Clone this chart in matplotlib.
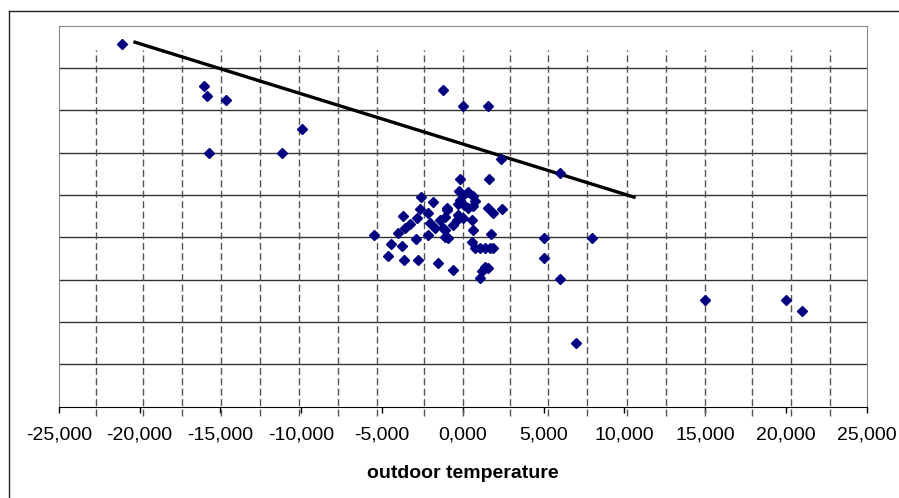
import matplotlib
matplotlib.use('Agg')
import matplotlib.pyplot as plt
from matplotlib.lines import Line2D
from matplotlib.ticker import FuncFormatter, MultipleLocator

plt.rcParams['font.family'] = ['Liberation Sans', 'DejaVu Sans']

# scatter points (outdoor temperature, value)
temp_x = [-21.08, -16.0, -15.82, -14.63, -15.72, -11.2, -9.96, -1.22, 0.02, 1.58,
          2.37, 6.02, -0.19, 1.65, 5.01, 8.0, 5.01, 6.02, 7.0, 15.0, 19.99, 21.02,
          1.09, -0.58, -1.51, -2.78, -3.61, -4.64, -5.47, -4.46, -3.78, -2.89,
          -2.58, -1.86, -3.71, -2.64, -2.13, -2.85, -3.26, -3.57, -3.99, -2.13,
          -2.02, -1.71, -1.40, -1.20, -1.10, -0.99, -1.10, -0.21, 0.04, 0.35,
          0.62, 0.76, 0.66, 0.35, 0.08, -0.17, -0.99, -0.27, -0.37, -0.58, 0.04,
          0.56, 0.66, 1.58, 1.89, 2.41, 1.73, 0.56, 0.76, 1.07, 1.38, 1.69, 1.89,
          1.38, 1.58, 1.18, -1.10, -0.91, -0.27]
value_y = [8.57, 7.58, 7.34, 7.24, 6.0, 6.0, 6.57, 7.48, 7.10, 7.10,
           5.85, 5.51, 5.37, 5.37, 3.99, 3.99, 3.51, 3.02, 1.50, 2.51, 2.51, 2.26,
           3.04, 3.22, 3.39, 3.47, 3.47, 3.57, 4.06, 3.84, 3.80, 3.96,
           4.96, 4.84, 4.50, 4.66, 4.57, 4.45, 4.32, 4.21, 4.11, 4.06,
           4.33, 4.21, 4.41, 4.21, 4.02, 4.65, 4.49, 5.10, 5.00, 5.06,
           4.98, 4.86, 4.75, 4.70, 4.76, 4.88, 4.70, 4.53, 4.41, 4.29, 4.45,
           4.41, 4.17, 4.70, 4.57, 4.67, 4.07, 3.88, 3.74, 3.74, 3.74, 3.74, 3.76,
           3.31, 3.27, 3.21, 4.17, 3.98, 4.80]

# trend line end points
trend_x = [-20.28, 10.6]
trend_y = [8.61, 4.95]

# dashed vertical lines
drop_x = [-22.71, -19.8, -17.39, -14.98, -12.56, -10.15, -7.74, -5.30, -2.41, 0.0,
          2.9, 5.3, 7.7, 10.15, 12.56, 15.0, 17.9, 20.3, 22.7]
drop_low = -0.22
drop_high = 8.43


def fmt(v, pos):
    if abs(v) < 1e-9:
        v = 0.0
    return f'{v:.3f}'.replace('.', ',')


fig = plt.figure(figsize=(8.99, 4.98), dpi=100)
ax = fig.add_axes([0.0653, 0.1833, 0.8988, 0.7651])

ax.set_xlim(-25, 25)
ax.set_ylim(0, 9)

ax.vlines(drop_x, drop_low, drop_high, colors='#555555', linestyles=(0, (5, 2.5)),
          linewidth=1.0, clip_on=False, zorder=2)
ax.plot(trend_x, trend_y, color='black', linewidth=2.4, zorder=3)
ax.plot(temp_x, value_y, linestyle='none', marker='D', markersize=5,
        color='#000080', zorder=4)

ax.xaxis.set_major_locator(MultipleLocator(5))
ax.xaxis.set_major_formatter(FuncFormatter(fmt))
ax.set_yticks(range(1, 9))
ax.yaxis.grid(True, color='#333333', linewidth=1.0)
ax.tick_params(axis='y', left=False, labelleft=False)
ax.tick_params(axis='x', direction='out', length=4, width=1, labelsize=14, pad=10)
ax.set_xlabel('outdoor temperature', fontsize=14, fontweight='bold', labelpad=16)

for s in ['top', 'left', 'right']:
    ax.spines[s].set_color('#888888')
ax.spines['bottom'].set_color('black')

# outer chart frame
fig.add_artist(Line2D([0.01, 1.0], [0.978, 0.978], color='#222222', linewidth=1.0))
fig.add_artist(Line2D([0.01, 0.01], [0.0, 0.978], color='#222222', linewidth=1.0))

fig.savefig('out.png', dpi=100)
